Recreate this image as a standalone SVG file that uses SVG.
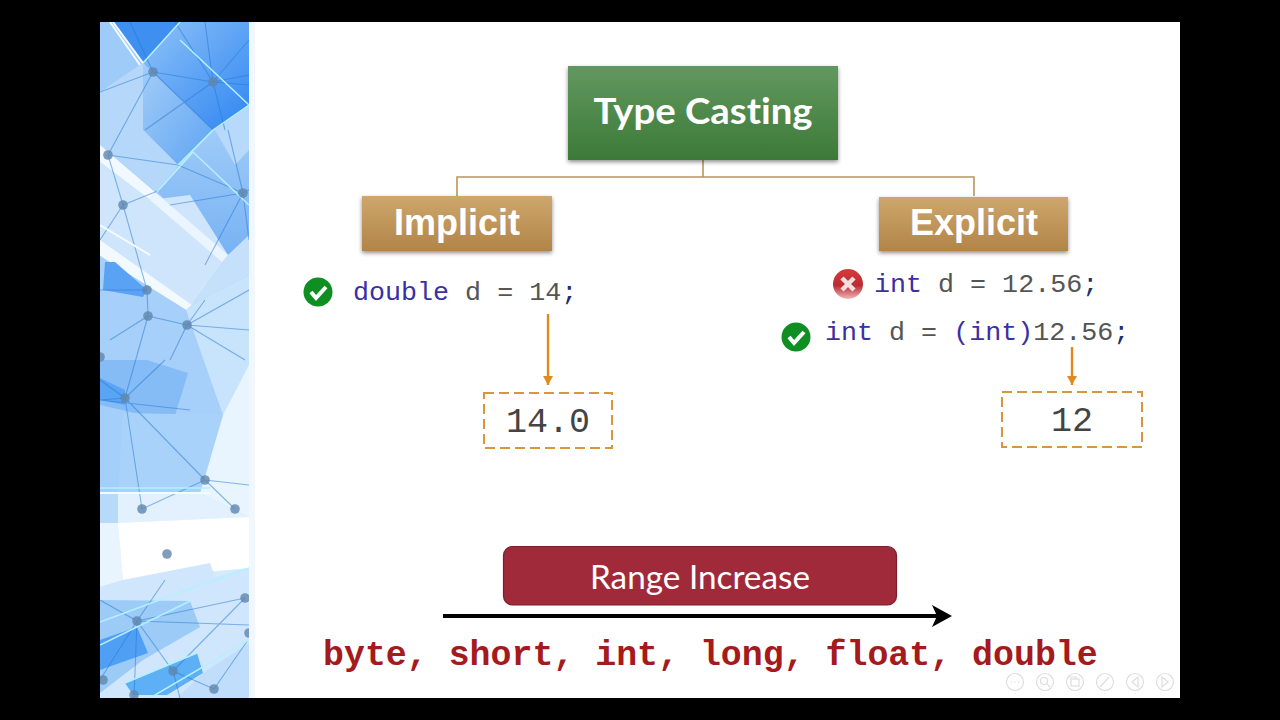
<svg xmlns="http://www.w3.org/2000/svg" width="1280" height="720" viewBox="0 0 1280 720">
<style>
.mono{font-family:"Liberation Mono","Courier New",monospace;font-size:26.7px;fill:#555}
.kw{fill:#3a2fa5}
.semi{fill:#1f2f6a}
.big{font-family:"Liberation Mono","Courier New",monospace;font-size:35px;fill:#444;text-anchor:middle}
.head{font-family:"Liberation Sans",Arial,sans-serif;font-weight:bold;font-size:37px;fill:#fff;text-anchor:middle}
.lato{font-family:Lato,Carlito,sans-serif;font-variant-ligatures:none;fill:#fff;text-anchor:middle}
.conn{fill:none;stroke:#b8965c;stroke-width:1.6}
.flow{fill:none;stroke:#e08a1e;stroke-width:2.4}
.dash{fill:#fff;stroke:#d9963f;stroke-width:2;stroke-dasharray:10 5}
.dot{fill:#5f86ad;fill-opacity:.8}
.net{fill:none;stroke:#2378d4;stroke-opacity:.5;stroke-width:1.1}
.ui{fill:none;stroke:#dedede;stroke-width:1.2}
.stripe{fill:none;stroke:#b4f0ff;stroke-width:1.5}
.white{fill:none;stroke:#f4fbff;stroke-width:2}
</style>
<defs>
<linearGradient id="gGreen" x1="0" y1="0" x2="0" y2="1"><stop offset="0" stop-color="#62985f"/><stop offset="1" stop-color="#3c7a38"/></linearGradient>
<linearGradient id="gGold" x1="0" y1="0" x2="0" y2="1"><stop offset="0" stop-color="#cda76c"/><stop offset="1" stop-color="#b28448"/></linearGradient>
<linearGradient id="gRed" x1="0" y1="0" x2="0" y2="1"><stop offset="0" stop-color="#d83a3a"/><stop offset=".55" stop-color="#b92c33"/><stop offset="1" stop-color="#eeb8b8"/></linearGradient>
<linearGradient id="gDeep" x1="0" y1="0" x2="1" y2="1"><stop offset="0" stop-color="#8fc2f8"/><stop offset="1" stop-color="#2f86f2"/></linearGradient>
<linearGradient id="gBand" x1="0" y1="0" x2="1" y2="1"><stop offset="0" stop-color="#a3cdf8"/><stop offset="1" stop-color="#5ea4f2"/></linearGradient>
<linearGradient id="gMid" x1="0" y1="0" x2="0" y2="1"><stop offset="0" stop-color="#a6d0f9"/><stop offset="1" stop-color="#78b2f4"/></linearGradient>
<filter id="sh" x="-5%" y="-10%" width="110%" height="125%"><feDropShadow dx="0" dy="2" stdDeviation="2" flood-color="#000" flood-opacity=".45"/></filter>
<marker id="mFlow" markerWidth="11" markerHeight="11" refX="9" refY="5" orient="auto" markerUnits="userSpaceOnUse"><path d="M0 0L9 5L0 10Z" fill="#e08a1e"/></marker>
<clipPath id="cSide"><rect x="100" y="22" width="149" height="676"/></clipPath>
</defs>
<rect width="1280" height="720" fill="#000"/>
<rect x="100" y="22" width="1080" height="676" fill="#fff"/>
<rect x="249" y="22" width="6" height="676" fill="#f2f6fd"/>
<g id="sidebar" clip-path="url(#cSide)">
<rect x="100" y="22" width="149" height="500" fill="#acd3fa"/>
<rect x="100" y="500" width="149" height="198" fill="#d6eafc"/>
<polygon points="100,22 113,22 143,63 100,92" fill="#9fcbf8"/>
<polygon points="113,22 180,22 143,63" fill="#3f8ff0"/>
<polygon points="180,22 249,22 249,105 213,130 143,63" fill="url(#gDeep)"/>
<polygon points="143,63 213,130 178,165 143,130" fill="url(#gBand)"/>
<polygon points="100,92 143,63 143,130 178,165 157,192 100,145" fill="#b5d8fa"/>
<polygon points="193,152 215,130 249,105 249,237 228,255 157,192" fill="url(#gMid)"/>
<polygon points="215,130 249,105 249,150 235,165" fill="#b7d9fb"/>
<polygon points="100,145 155,192 150,200 100,162" fill="#f1f8ff"/>
<polygon points="100,162 150,200 190,195 228,255 192,305 100,250" fill="#cfe5fc"/>
<polygon points="155,192 228,255 222,262 150,200" fill="#eaf5ff"/>
<polygon points="100,240 192,305 186,310 100,256" fill="#f2f9ff"/>
<polygon points="228,255 249,235 249,275 192,305" fill="#c4e0fb"/>
<polygon points="192,305 249,275 249,500 205,500 218,415 125,360" fill="#c8e3fc"/>
<polygon points="100,256 186,310 223,415 123,413 100,405" fill="#a6cff9"/>
<polygon points="105,262 115,262 147,290 143,297 103,290" fill="#5aa2f4"/>
<polygon points="100,360 147,360 188,373 173,422 100,405" fill="#85bcf6"/>
<polygon points="100,378 125,390 125,405 100,400" fill="#5aa4f6"/>
<polygon points="223,415 249,365 249,517 200,493" fill="#e8f4fe"/>
<polygon points="123,413 223,415 200,493 118,493" fill="#a9d2fa"/>
<polygon points="100,405 123,413 118,493 100,493" fill="#a3cffa"/>
<polygon points="118,493 200,493 249,517 118,523" fill="#e3f1fe"/>
<polygon points="100,493 118,493 118,523 100,523" fill="#b8daf9"/>
<polygon points="100,523 118,523 123,580 100,587" fill="#e8f4fe"/>
<polygon points="118,523 249,517 249,568 123,580" fill="#fff"/>
<polygon points="100,587 123,580 210,563 215,577 249,568 249,698 100,698" fill="#cfe6fc"/>
<polygon points="100,600 190,601 200,627 143,660 100,693" fill="#9ccbf8"/>
<polygon points="100,640 137,627 148,653 100,670" fill="#4fa0f5"/>
<polygon points="125,683 197,653 203,673 167,695 133,695" fill="#5db0f6"/>
<polygon points="203,673 249,643 249,698 177,698" fill="#c0defb"/>
<g class="net">
<path d="M100 92L153 72L213 82L249 75M153 72L108 155M153 72L213 130M213 82L249 40M213 82L205 22M213 82L175 22M213 82L249 85M213 82L225 130M153 72L130 22M213 82L145 130M108 155L178 165L243 193L249 190M108 155L123 205M123 205L100 240M123 205L160 190M123 205L147 290M243 193L170 205M243 193L228 130M243 193L205 265M243 193L249 240M147 290L100 290M147 290L148 316M148 316L187 325L249 330M148 316L125 398M148 316L110 340M187 325L249 290M187 325L205 300M187 325L245 360M187 325L170 360M125 398L100 380M125 398L205 480M125 398L142 509M125 398L100 400L190 410M125 398L165 360M205 480L235 509M205 480L142 509M205 480L249 485M137 621L245 598M137 621L249 625M137 621L100 680M137 621L173 671L214 689M137 621L134 698M137 621L165 580M137 621L100 600M173 671L245 598M214 689L248 640M173 671L180 698"/>
</g>
<g class="stripe">
<path d="M143 63L180 22M180 40L249 105M213 130L249 105M178 165L213 130M157 192L193 152M193 152L249 205M100 488H210M100 622L200 585L249 568M100 645L190 601M125 683L197 653M150 698L249 640"/>
</g>
<g class="white">
<path d="M113 22L143 63M110 22L140 65M100 225L150 255M100 493H210"/>
</g>
<g>
<circle class="dot" cx="153" cy="72" r="4.8"/><circle class="dot" cx="213" cy="82" r="4.8"/><circle class="dot" cx="108" cy="155" r="4.8"/><circle class="dot" cx="243" cy="193" r="4.8"/><circle class="dot" cx="123" cy="205" r="4.8"/><circle class="dot" cx="147" cy="290" r="4.8"/><circle class="dot" cx="148" cy="316" r="4.8"/><circle class="dot" cx="187" cy="325" r="4.8"/><circle class="dot" cx="100" cy="357" r="4.8"/><circle class="dot" cx="125" cy="398" r="4.8"/><circle class="dot" cx="205" cy="480" r="4.8"/><circle class="dot" cx="142" cy="509" r="4.8"/><circle class="dot" cx="235" cy="509" r="4.8"/><circle class="dot" cx="167" cy="554" r="4.8"/><circle class="dot" cx="245" cy="598" r="4.8"/><circle class="dot" cx="249" cy="633" r="4.8"/><circle class="dot" cx="137" cy="621" r="4.8"/><circle class="dot" cx="173" cy="671" r="4.8"/><circle class="dot" cx="214" cy="689" r="4.8"/><circle class="dot" cx="134" cy="695" r="4.8"/><circle class="dot" cx="103" cy="680" r="4.8"/>
</g>
</g>
<g id="connectors">
<path class="conn" d="M703 160V177M457 196V177H974V196"/>
<path class="flow" d="M548 314V385" marker-end="url(#mFlow)"/>
<path class="flow" d="M1072 347V385" marker-end="url(#mFlow)"/>
<path d="M443 616H940" fill="none" stroke="#000" stroke-width="4"/>
<path d="M932 605L952 616L932 627L937 616Z" fill="#000"/>
</g>
<g id="node-type-casting">
<rect x="568" y="66" width="270" height="94" fill="url(#gGreen)" filter="url(#sh)"/>
<text class="lato" x="703" y="124" font-weight="700" font-size="37" textLength="219" lengthAdjust="spacingAndGlyphs">Type Casting</text>
</g>
<g id="node-implicit">
<rect x="362" y="196" width="190" height="55" fill="url(#gGold)" filter="url(#sh)"/>
<text class="head" x="457" y="235" textLength="126" lengthAdjust="spacingAndGlyphs">Implicit</text>
</g>
<g id="node-explicit">
<rect x="879" y="197" width="189" height="54" fill="url(#gGold)" filter="url(#sh)"/>
<text class="head" x="974" y="235" textLength="128" lengthAdjust="spacingAndGlyphs">Explicit</text>
</g>
<g id="code-implicit">
<circle cx="318" cy="292" r="14.5" fill="#0f8f22"/>
<path d="M311 292L316 298L326 287" fill="none" stroke="#fff" stroke-width="4"/>
<text class="mono" x="353" y="300"><tspan class="kw">double</tspan> d = 14<tspan class="semi">;</tspan></text>
</g>
<g id="result-implicit">
<rect class="dash" x="484" y="393" width="128" height="55"/>
<text class="big" x="548" y="432">14.0</text>
</g>
<g id="code-explicit-wrong">
<circle cx="848" cy="284" r="15" fill="url(#gRed)"/>
<path d="M842 278L854 290M854 278L842 290" fill="none" stroke="#f4dede" stroke-width="4.5"/>
<text class="mono" x="874" y="292"><tspan class="kw">int</tspan> d = 12.56<tspan class="semi">;</tspan></text>
</g>
<g id="code-explicit-right">
<circle cx="796" cy="337" r="14.5" fill="#0f8f22"/>
<path d="M789 337L794 343L804 332" fill="none" stroke="#fff" stroke-width="4"/>
<text class="mono" x="825" y="340"><tspan class="kw">int</tspan> d = <tspan class="kw">(int)</tspan>12.56<tspan class="semi">;</tspan></text>
</g>
<g id="result-explicit">
<rect class="dash" x="1002" y="392" width="140" height="55"/>
<text class="big" x="1072" y="431">12</text>
</g>
<g id="node-range">
<rect x="503.500" y="546.500" width="393" height="58.500" rx="9" fill="#a12a3a" stroke="#7d1c2b" stroke-width="1.200"/>
<text class="lato" x="700" y="589" font-size="33" textLength="220" lengthAdjust="spacingAndGlyphs">Range Increase</text>
</g>
<g id="types">
<text x="323" y="665" font-family="'Liberation Mono','Courier New',monospace" font-weight="bold" font-size="34.900" fill="#a51a1c">byte, short, int, long, float, double</text>
</g>
<g id="player-controls">
<circle class="ui" cx="1015" cy="682" r="8.500"/><path d="M1011 682h1M1014.500 682h1M1018 682h1" stroke="#cfcfcf" fill="none"/>
<circle class="ui" cx="1045" cy="682" r="8.500"/><circle class="ui" cx="1044" cy="681" r="3.500"/><path class="ui" d="M1047 684L1050 687"/>
<circle class="ui" cx="1075" cy="682" r="8.500"/><rect class="ui" x="1071" y="679" width="8" height="7"/><path class="ui" d="M1069 677h7v2"/>
<circle class="ui" cx="1105" cy="682" r="8.500"/><path class="ui" d="M1100 687L1109 677"/>
<circle class="ui" cx="1135" cy="682" r="8.500"/><path class="ui" d="M1138 677L1132 682L1138 687Z"/>
<circle class="ui" cx="1165" cy="682" r="8.500"/><path class="ui" d="M1162 677L1168 682L1162 687Z"/>
</g>
</svg>
